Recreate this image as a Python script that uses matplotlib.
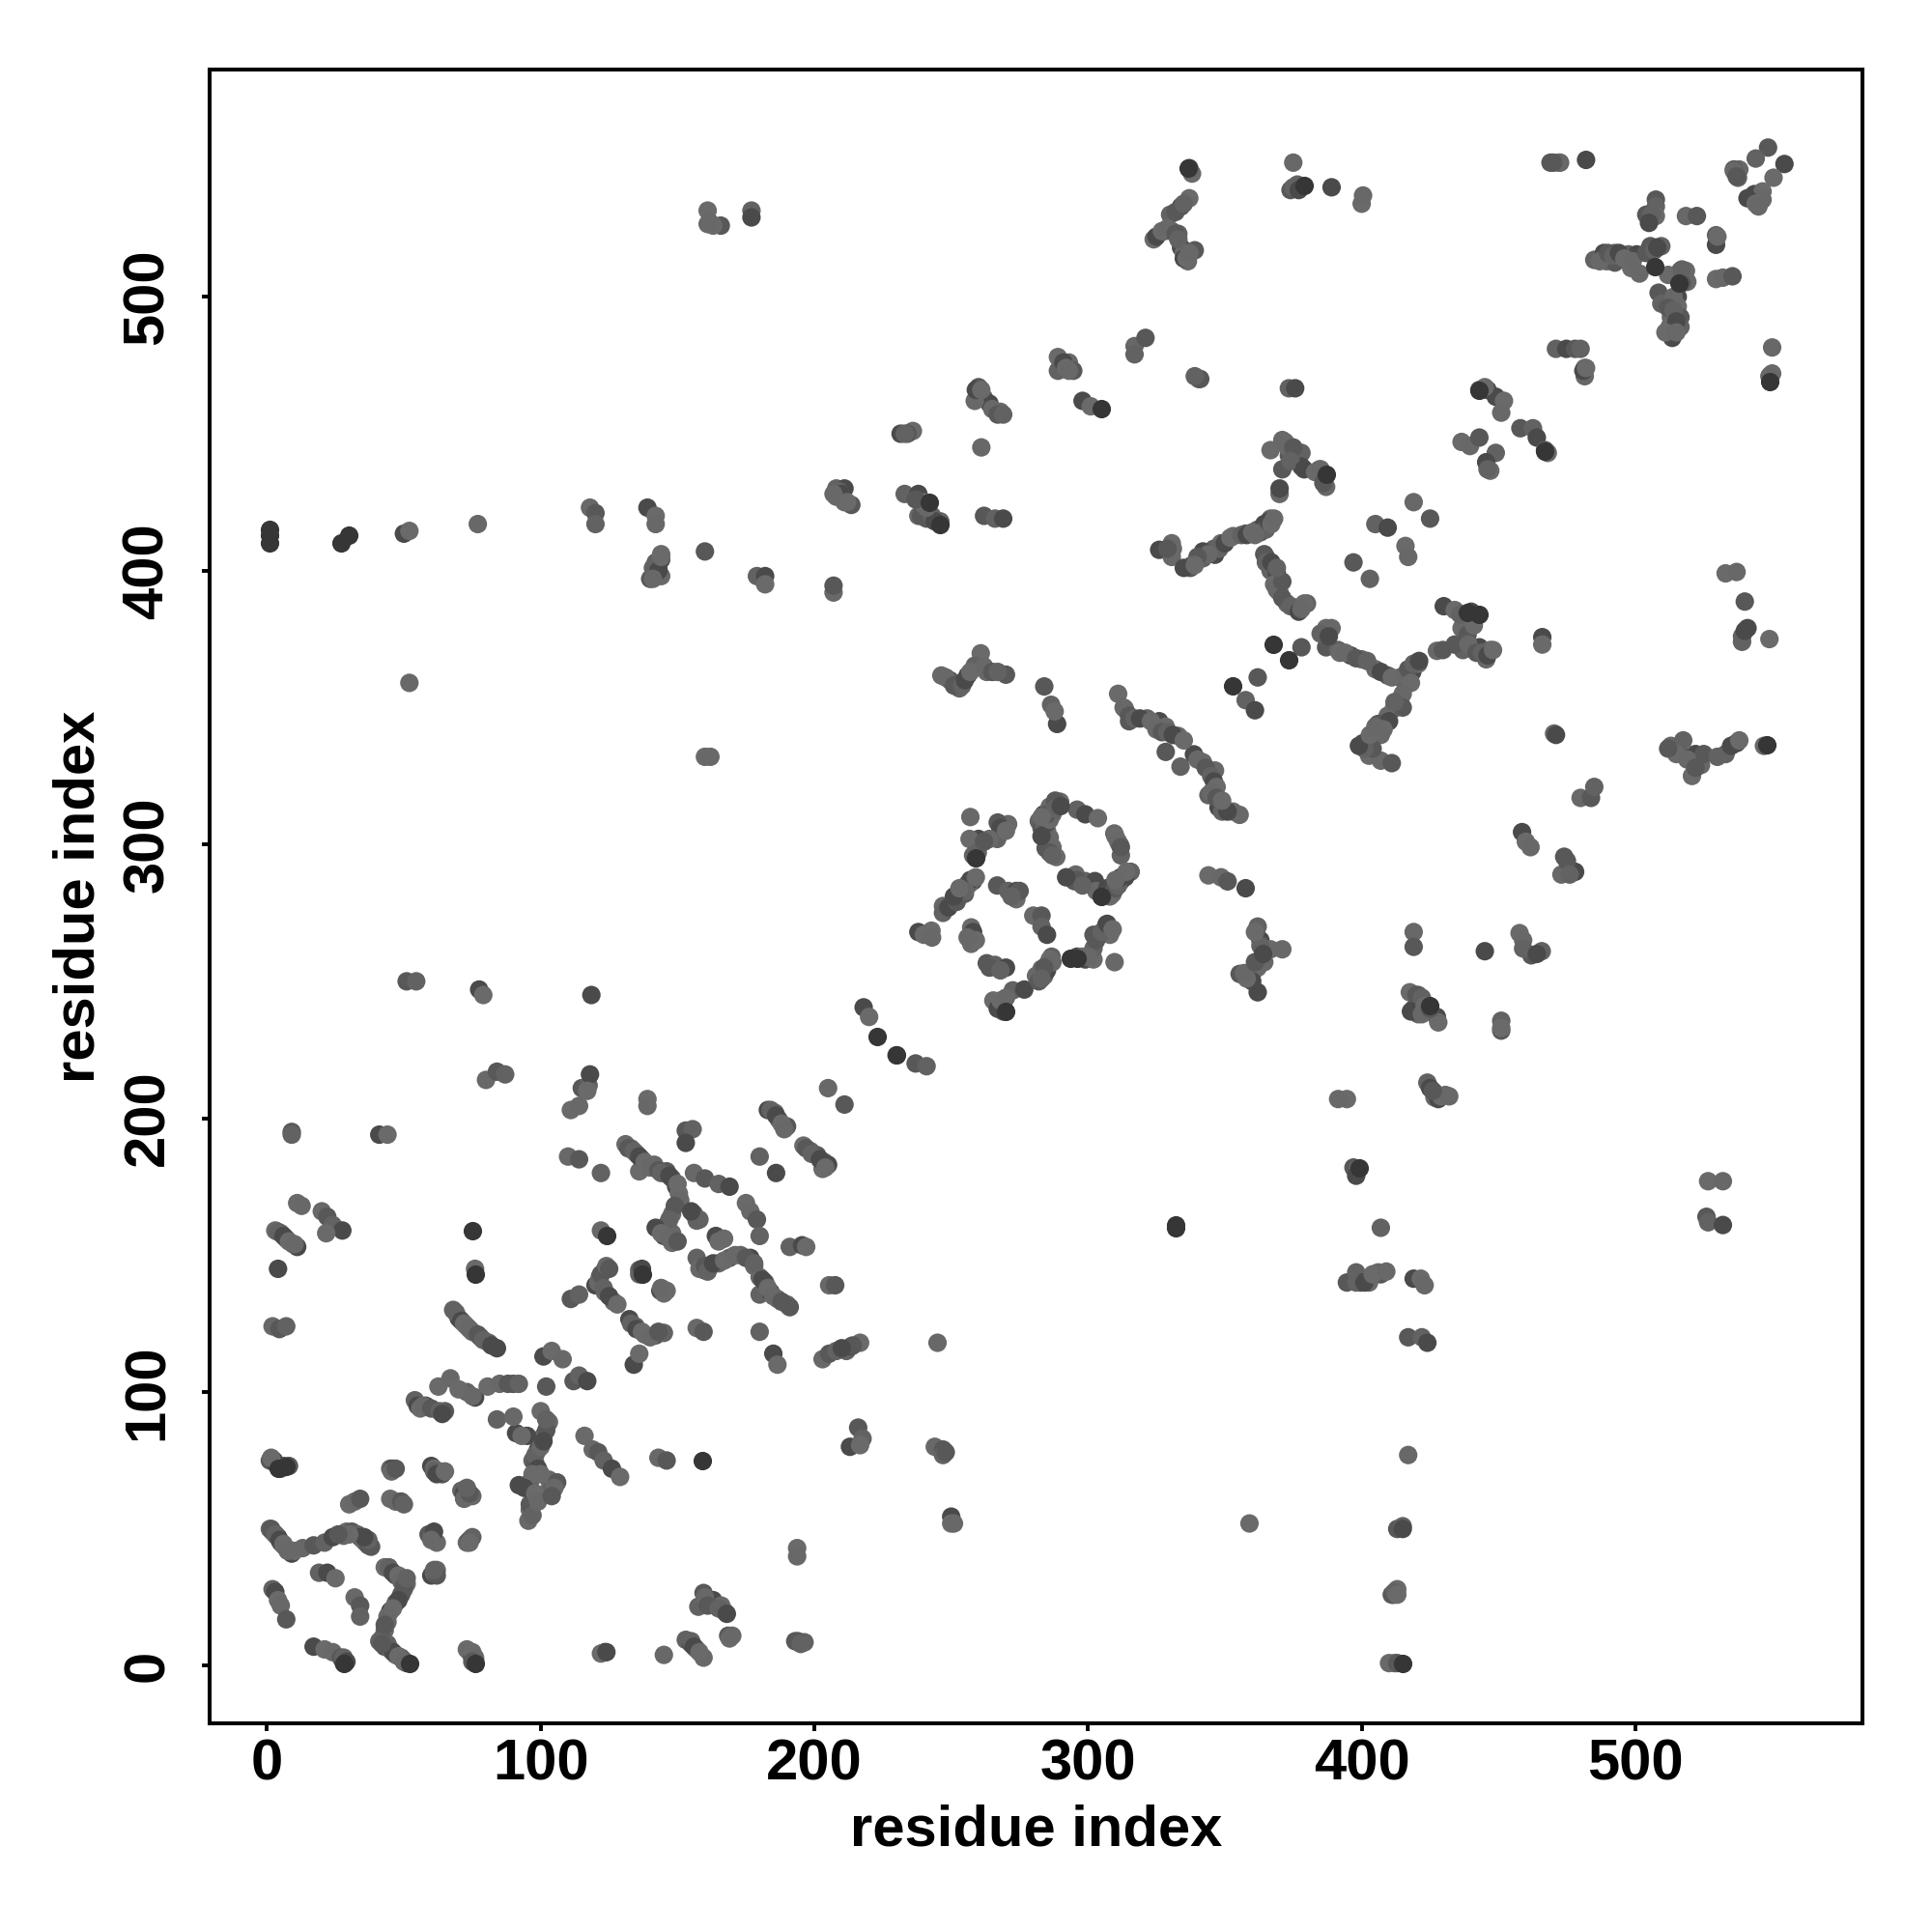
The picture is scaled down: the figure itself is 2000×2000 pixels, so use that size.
import numpy as np
import matplotlib
matplotlib.use('Agg')
import matplotlib.pyplot as plt

# contacts, (i, j), grouped by region
lower_left = [
    (1,50),(2,49),(3,48),(4,47),(5,45),(6,44),(7,43),(8,42),(9,41),(10,42),(13,43),(17,44),(21,45),(24,47),
    (27,48),(29,49),(31,49),(33,48),(34,47),(35,46),(36,45),(37,44),(2,28),(3,27),(4,24),(5,22),(7,17),
    (19,34),(22,34),(25,32),(32,25),(34,22),(34,18),(17,7),(21,6),(24,5),(27,3),(28,2),(28,1),
    (43,36),(45,35),(47,33),(49,32),(50,31),(51,30),(50,28),(49,26),(47,23),(45,20),(44,16),(43,13),(42,10),
    (41,9),(43,7),(45,6),(47,4),(49,3),(50,2),(51,1),(73,6),(74,5),(75,3),(76,2),(76,1),
    (30,59),(32,60),(34,61),(45,72),(46,72),(45,61),(47,60),(49,60),(50,59),(60,73),(61,72),(63,71),(64,70),
    (71,64),(72,63),(74,62),(75,62),(59,48),(60,47),(61,46),(62,45),(73,45),(74,46),(75,47),(60,33),(61,34),(62,35),
    (1,75),(2,75),(3,74),(4,73),(5,73),(6,73),(54,97),(58,95),(62.6,102),(67,105),(65,93),(73,100),(76,98),
    (80.6,102),(85,103),(90,103),(84,90),(91,85),(100,93),(103,89),(102,102),(97,75),(99,79),(101,84),(103,68),
    (106,67),(96,67),(92,66),(96,57),(95.5,53),(99,61),(102,63),(101,113),(104,115),(108,112),(112,104),(114,106),
    (117,104),(116,84),(119,79),(121,78),(123,75),(126,72),(129,69),(143,76),(146,75),(68,130),(70,127),(73,124),
    (75,122),(78,120),(81,118),(84,116),(76,145),(2,124),(4.5,123),(7,124),(4,145),(3,159),(5,158),(7,156),
    (9.5,154),(11,153),(11,169),(12.6,168),(9,195),(9,194),(41,194),(44,194),(20,166),(22,164),(24,161),(27.5,159),
    (21.6,158),(52,359),(51,250),(54.5,250),(77.5,247),(79,245),(80,214),(84,217),(87,216),(50,413.5),(52,414.5),(77,417),
    (1.5,50),(3,48),(4.5,46),(6,44.5),(7.5,42),(38,43.5),(37,46),(35.5,47),(30,48),(28,47.5),(26,48),
    (44.5,36),(46,34),(48,33),(49,31),(50,29),(51,32),(48,24),(46,21),(44,18),(43,15),(44,8),(46,5),(48,3.5),(50,1.5),(42,8),
    (28,3),(29,1.5),(75,5),(76,3),(75,1.5),(4,158.5),(6,157),(8,155),(10,154),(8,73),(5,72),(2.5,75),(1.5,76),
    (45.5,71),(47,72),(61,71),(62,70),(65,71),(72,61),(74,63),(73,65),(61,49),(74,45),(60,46),(62,33),(61,35),
    (55,95),(56,94),(57,95),(60,94),(63,93),(64,92),(70,101),(75,98.5),(88,103),(92,103),(95,84),(93,84),(90,91),
    (98,74),(98,77),(99,72),(100,70),(100,80),(102,86),(102,90),(101,82),(97,70),(105,65),(96,59),(97,55),(94,65),
    (98,63),(99,60),(104,62),(69,129),(71,126),(72,125),(74,123),(77,121),(79,119),(82,117),
]
centre_low = [
    (111,203),(114,204.5),(115,211),(117.5,212),(118,216),(117,210),(110,186),(114,185),(122,180),(118.5,245),
    (139,207),(139,204.5),(153,195.5),(155.5,196),(153,191),(131,190.5),(133,189),(135,187),(137,185),(139,183),
    (136,180.6),(141.5,183),(146,180.6),(148,178),(149.5,175),(150.5,172.5),(148,165),(146,161),(143,159.5),(145,157),
    (148,154.5),(148,158),(156,165),(157,162.6),(164,157),(167,156),(156,180),(160,178),(165,176),(169,175),(175,169),
    (176.6,166),(179,163),(180,157),(183,203),(185.6,202),(187,199.5),(190,197),(180,186),(186,180),(196,190),(198.6,188),
    (201,186.5),(203.6,184),(205,183),(203,181.5),(205,211),(211,205),(191,153),(195.5,153.6),(197,153),(205.4,139),(207.6,139),
    (157,149),(159.5,144.6),(162,146),(165,147),(169,149),(173,150),(176.6,149),(178,146),(180,142),(182,140),(180,135.6),
    (184,136.5),(186.5,134),(190,132),(191,131),(136,144.6),(143.7,137),(146,137),(122,159),(123.4,144.6),(121.6,142),
    (120,139),(123.4,136.5),(126.6,133),(111,134),(114,135.6),(132.4,126.6),(134.7,124),(138,121),(142,120.7),(145,121.6),
    (134,110),(136,114),(157,123.4),(159.5,122),(180,122),(185,114),(186.5,110),(203,112),(205.4,114),(211.7,115),(213.5,116.7),
    (216.7,118),(245,118),(216,87),(217.6,83),(213,80),(216.7,80.6),(244,80),(247,79),(247,77),(250,54.5),(193.7,43),
    (193.7,40),(193,9),(196.4,8.6),(123.4,5),(122,4.5),(145,4),(159.5,26.6),(157.6,21.6),(163,24),(166,22),(167,20),(168.5,11),
    (153,9.5),(155,8),(157,6),(159.5,3),
    (132,189),(134,188),(136,186),(138,184),(140,182),(143,181),(144,180),(147,179),(150,176),(151,170),(149,168),(147,163),
    (142,160),(144,158),(147,156),(150,155),(158,163),(155,166),(165,155),(158,145),(160,146),(161,144),(163,147),(167,148),
    (171,150),(175,149),(178,147),(181,141),(183,138),(185,135),(188,133),(184,203),(186,201),(188,198),(189,196),(197,189),
    (199,187),(202,185),(204,182),(121,140),(122,143),(123,138),(125,135),(128,132),(124,146),(125,145),(133,125),(135,123),
    (137,122),(140,120),(143,122),(136,143),(137,145),(145,136),(144,138),(214,117),(208,115),(210,116),(250,52),(251,52),
    (248,78),(155,9),(156,7),(158,5),(160,25),(161,22),(165,21),(168,19),(169,10),(170,11),(194,9),(195,8),(124,5),
]
lower_right = [
    (359,52),(417,77),(413,50),(415,51),(411.7,26),(413,28),(410,1),(394.6,140),(398,143.7),(399.6,140),(402.7,140),(406,143.7),
    (407,143),(407,160),(419,141.4),(421.6,141.4),(423,139),(417,120),(422,120),(424,118),(394.6,207),(391.4,207),(397,182),
    (398.6,181.5),(398,179),(526.6,177),(532,177),(526,164),(526.6,162),(532,161),(417.6,246),(420.7,245),(419,240),(420.7,238),
    (427.5,237),(428,235),(419,268),(419,262.6),(424,213),(425,211),(426.6,207.6),(430.6,208.5),(451,232),(451,235.6),(445,261),
    (457.7,267.6),(459,265),(462,259.5),(465.8,261),(458.6,304.5),(460,301),(461.7,299),(474,295.5),(475.5,291),(478,290),
    (470.3,340.5),(480,317),(483.8,317),(485,321),(466,375.7),(466,373),(513,336),(516,334),(517.5,338),(522,333),(520.7,325),
    (524,329),(525,333),(533,333),(537,337),(533,399),(537,399.5),(540,388.7),(539,374),(541,379),(549,375),(550,481.5),(549.6,471.6),
    (471,481),(474.8,481),(481.5,474),(481.5,471),
    (411,26),(412,27),(415,50),(413,26),(412,1),(413,1),(398,140),(401,140),(404,143),(409,144),(420,245),(422,244),(418,239),
    (423,241),(422,238),(425,240),(427,209),(428,207),(429,208),(432,208),(426,210),(459,262),(464,260),(451,233),(473,289),
    (475,294),(476,289),(471,340),(515,333),(519,331),(522,328),(530,332),(535,336),(538,338),(547,336),(512,335),(539,376),
    (540,378),(550,472),(549,471),(478,481),(480,481),(481,473),(482,474),
]
top_row = [
    (118,423),(120,421),(120,417),(139,423),(142,420),(142,417),(140,397),(141,401),(144,404),(144,406),(144,398),(160,407),
    (179,398),(182,398),(182,395),(207,392),(207,394.5),(208,430),(211,430),(208,427),(211,425),(213.5,424),(233,428),(238,428),
    (240,425),(238,420),(241,419),(246,418),(231.5,450),(236,451),(261,445),(260,467),(262,463),(264,461),(268,458),(258.6,462),
    (262,420),(266,419),(269,419),(289,478),(293,476),(294.6,473),(289,473),(298,462),(301,460),(317,482),(321,485),(317,479),
    (340.5,470),(324,521),(328,524),(330.6,524),(333,523),(334,518),(335,516),(336.5,513),(339,517),(330,530),(334,533),(337,536),
    (375,549),(374,539),(376.5,541),(389,540),(400,534),(400.5,537),(469,549),(472.5,549),(482,550),(161,531.5),(161,526.6),
    (165.8,526),(177,531.5),(177,529),(160,332),(162,332),
    (143,401),(142,403),(143,400),(144,405),(141,397),(239,420),(243,420),(244,418),(240,424),(241,423),(237,426),(209,429),
    (210,428),(212,425),(207,428),(234,450),(233,450),(259,466),(261,466),(265,459),(267,457),(269,457),(291,476),(292,474),
    (293,473),(341,470),(339,471),(325,522),(327,524),(329,525),(332,523),(333,521),(335,514),(336,514),(337,516),(332,531),
    (335,534),(337,547),(338,545),(472,549),(470,549),(375,540),(377,539),(163,526),(162,527),
]
upper_right = [
    (548.5,554.5),(544,550.5),(554.5,548.5),(550.5,543.5),(538,546.5),(536,546.5),(537.5,543.5),(543.5,537.5),(546.5,538.5),
    (546.5,535.5),(507.5,535.5),(507.5,533),(505.5,529.5),(507.5,529.5),(518.5,529.5),(522.5,529.5),(529.5,522.5),(529.5,519),
    (529.5,506.5),(532,507),(535.5,507.5),(485,513.5),(488.5,516),(489.5,513),(492.5,516),(492.5,512.5),(497.5,515.5),(500.5,515.5),
    (498.5,510.5),(501.5,508.5),(505.5,518.5),(509.5,518.5),(516.5,509.5),(518.5,509.5),(519,505.5),(508.5,501.5),(509.5,497.5),
    (515.5,500),(515.5,496.5),(513,492.5),(516.5,492.5),(516.5,489),(513.5,485),(512.5,489),
    (487,513),(490,516),(492,515),(494,516),(496,514),(499,513),(504,516),(507,517),(508,518),(512,508),(514,500),(512,496),
    (514,495),(515,491),(511,487),(515,487),(517,505),(517,510),(541,536),(544,534),(545,533),(504,530),(506,530),(505,527),
    (530,522),(536,546),(537,544),
]
mid_right = [
    (443,466),(449,463.5),(452,462),(451,457.7),(458,452),(462.6,452),(464,448.6),(436.5,447),(439.6,445.5),(443,448.6),(449,443),
    (445.5,439.6),(447,436.5),(419,425),(425,419),(405,417),(409.5,415.7),(416,409),(417,405),(397,403),(403,397),(430,387),
    (434,385.6),(436.5,379),(438.7,376.6),(437,371),(443,372),(447,371),(445.5,367.6),(362,361),(357.6,352.7),(361,349),(387,379),
    (389,379),(387,372),(391.4,371),(396,369),(400,367.6),(405,364),(409.5,361.7),(414,361),(418.5,363),(420.7,366),(427.5,370.7),
    (429.7,371),(416,358.6),(414,352),(411.7,349.5),(409.5,347),(406,344),(405,340.5),(400.5,337),(402.7,332.4),(407,330.6),(411,329.7),
    (362,415),(364.4,417),(366.7,419),(370,428),(364.4,406),(366.7,400),(369,399),(370,392),(372.7,388),(375.7,386.5),(380,388),
    (326,407.6),(330.6,410),(330.6,405),(337.4,401),(342,404.5),(346.4,405.8),(348.6,410),(353,412.6),(357.6,413.5),(346,408),(342,407),
    (366.7,444),(371,447.7),(373.4,442),(378,443),(378,438),(384.6,437),(387,430.6),(371,437),(373.4,466.6),(375.7,466.6),
    (311,355),(313.5,349.5),(315,345),(321.6,346),(326,345),(328.4,343),(333,339.6),(328.4,333.8),(333.8,328.4),(338.7,332.9),(342,330),
    (346.4,327),(346.4,320),(344,318),(347.7,313.5),(353,312),(355.4,310.8),(284,357.7),(286.5,351),(288.7,344),(287.8,348.6),
    (246.4,361.7),(249.5,360),(253,357),(256,361.7),(260.8,369.8),(263,363),(270,362),(258.6,365.3),(357.6,284),(344,288.7),(348.6,288),
    (351,286.5),(362,270),(363,265),(366.7,261.7),(371,261.7),(355.4,252.7),(360,252.7),(362,246),(362,255),(364.4,257),
    (363,414),(365,415),(366,418),(367,417),(368,419),(365,405),(365,403),(367,403),(368,395),(369,393),(371,390),(374,387),(377,385),
    (379,388),(378,386),(371,396),(369,401),(370,430),(373,445),(372,447),(375,445),(374,440),(379,437),(383,436),(385,437),(386,432),
    (348,408),(350,410),(352,412),(344,406),(340,405),(338,402),(335,401),(339,402),(331,408),(329,408),(356,413),(358,413),(360,414),
    (361,413),(378,372),(385,377),(388,376),(392,370),(394,370),(398,368),(402,367),(407,363),(411,361),(416,362),(417,364),(419,366),
    (421,367),(418,359),(415,355),(415,350),(412,352),(410,345),(408,342),(407,340),(404,335),(401,335),(399,336),(403,340),(405,343),
    (434,373),(436,384),(440,385),(441,380),(439,373),(442,370),(444,370),(446,369),(448,371),(468,443),(467,444),(446,437),(446,466),(445,467),
    (313,350),(315,347),(317,346),(319,346),(323,345),(325,342),(327,341),(329,341),(331,340),(335,338),(340,331),(343,328),(345,325),
    (346,323),(347,321),(345,319),(347,317),(349,312),(351,312),(349,316),(248,361),(251,358),(254,358),(255,360),(257,363),(262,365),
    (265,363),(267,363),(360,250),(358,251),(357,253),(361,257),(363,263),(364,260),(361,268),
]
ring = [
    (270.8,307.4),(267,308),(266.8,302),(260,302),(256.7,302),(257,310),(259,295),(259.7,297),(258,286.6),(256.6,285.5),(253.5,284),
    (266.8,285),(270.8,283),(273.8,283),(273.8,280),(280,274),(283,274),(283,270),(285,267),(257.3,269.7),(257.3,263.7),(263,256.6),
    (266,256),(270,255),(265.4,243),(269,242),(269,239),(272.5,246.7),(276.7,247),(281,252),(283,254.5),(285,256),(286.7,259),
    (299,258),(302,258),(309.7,257),(302,267),(302,262),(306.7,270.7),(308,267),(295.5,289),(295,286.6),(299,286.6),(302.5,286.6),
    (308,283),(309.7,285),(312,286.6),(315.6,290),(313.6,288),(288.4,295.4),(286,302.5),(284.5,298.6),(282,308.5),(283.8,311),(286,313.8),
    (289.8,315.6),(288,316),(296,312.7),(299,311),(303.6,309.6),(309.6,304),(311.7,299.7),(312,296),(238,268),(242.8,268.5),(247,277.5),
    (255,282),(256,285.6),(218,240.5),(220,237),(230,223),(237,220),(241,219),
    (268,306),(270,305),(264,302),(262,301),(258,296),(257,287),(259,288),(255,283),(275,283),(272,281),(258,268),(259,265),(256,266),
    (264,255),(268,254),(267,240),(268,243),(270,244),(282,250),(284,252),(285,254),(286,258),(287,257),(284,255),(283,251),(296,259),
    (298,259),(300,259),(303,265),(305,268),(307,271),(309,269),(303,283),(305,281),(306,282),(307,284),(308,281),(309,282),(310,284),
    (311,285),(312,288),(314,290),(310,287),(296,287),(298,285),(292,288),(285,305),(284,304),(283,306),(284,307),(285,308),(286,309),
    (287,311),(285,311),(288,313),(290,314),(283,310),(287,299),(286,297),(287,296),(283,303),(310,303),(311,301),(312,299),(247,275),
    (249,277),(240,267),(243,266),(252,279),(254,283),(251,281),(253,284),
]
dark_points = [
    (1,415),(1,413),(1,410),(27,410),(30,413),(336.5,547),(379,540.5),(415,1),(223,230),(230,223),(367.6,373),(373.4,367.6),(353,358),
    (387,435),(466.7,443.7),(443,466),(549,469),(438.7,384.7),(425,241),(75,159),(76,143),(332,161),(332,160),(52,1),(28,1),(293.7,258.4),
    (296,258.4),(305,459),(305,281),(259,295),(242,425),(246,417),(4,72),(7,73),(159,75),(124,157),(137,143),(399,182),(516,505),
    (507,511),(548,336.5),(76,1),(270,239),(443,384),
]

tick_vals = [0, 100, 200, 300, 400, 500]
axis_label = 'residue index'
greys = ['#686868', '#585858', '#626262', '#4a4a4a', '#6a6a6a']

plt.rcParams['font.family'] = ['Liberation Sans', 'DejaVu Sans']
plt.rcParams['font.weight'] = 'bold'

fig = plt.figure(figsize=(20, 20), dpi=100)
ax = fig.add_axes([217 / 2000, 1 - 1784 / 2000, 1711 / 2000, 1712 / 2000])

all_points = lower_left + centre_low + lower_right + top_row + upper_right + mid_right + ring
pts = np.array(all_points)
cols = [greys[i % len(greys)] for i in range(len(pts))]
ax.scatter(pts[:, 0], pts[:, 1], s=190, c=cols, linewidths=0, zorder=2)
dk = np.array(dark_points)
ax.scatter(dk[:, 0], dk[:, 1], s=190, c='#363636', linewidths=0, zorder=3)

ax.set_xlim(-21, 583)
ax.set_ylim(-21, 583)
ax.set_xticks(tick_vals)
ax.set_yticks(tick_vals)
ax.tick_params(axis='x', length=6, width=2.8, labelsize=43, pad=5)
ax.tick_params(axis='y', length=6, width=2.8, labelsize=43, pad=20)
for lab in ax.get_yticklabels():
    lab.set_rotation(90)
    lab.set_va('center')
for s in ax.spines.values():
    s.set_linewidth(2.9)

ax.set_xlabel(axis_label, fontsize=43, fontweight='bold', labelpad=9.6)
ax.set_ylabel(axis_label, fontsize=43, fontweight='bold', labelpad=12)

fig.savefig('out.png', dpi=100, facecolor='white')
